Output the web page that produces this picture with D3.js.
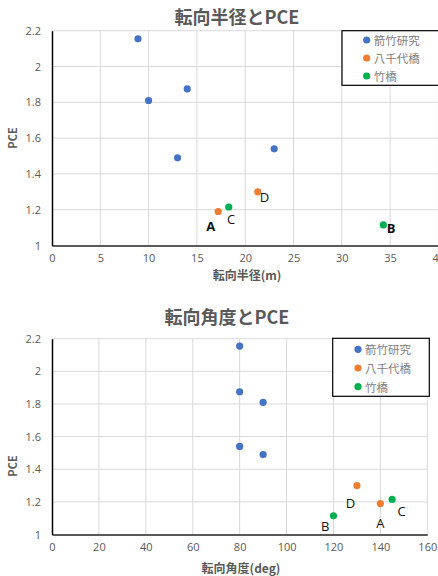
<!DOCTYPE html>
<html><head><meta charset="utf-8">
<script src="https://cdn.jsdelivr.net/npm/d3@7/dist/d3.min.js"></script>
<style>
body{margin:0;background:#fff;}
svg{display:block;font-family:"Noto Sans CJK JP","Noto Sans",sans-serif;}
</style></head>
<body><svg id="c" width="438" height="576"></svg>
<script>
// ---- data ----
const seriesNames = ["箭竹研究", "八千代橋", "竹橋"];
const seriesColors = ["#4472C4", "#ED7D31", "#00B050"];
// 箭竹研究
const radiusYaTake = [8.9, 10, 14, 13, 23];
const angleYaTake  = [80, 90, 80, 90, 80];
const pceYaTake    = [2.155, 1.81, 1.875, 1.49, 1.54];
// 八千代橋
const radiusYachiyo = [17.2, 21.3];
const angleYachiyo  = [140, 130];
const pceYachiyo    = [1.19, 1.30];
const labelsYachiyo = ["A", "D"];
// 竹橋
const radiusTake = [18.3, 34.3];
const angleTake  = [145, 120];
const pceTake    = [1.215, 1.115];
const labelsTake = ["C", "B"];

const yTicks = [1, 1.2, 1.4, 1.6, 1.8, 2, 2.2];
const xTicksRadius = [0, 5, 10, 15, 20, 25, 30, 35, 40];
const xTicksAngle = [0, 20, 40, 60, 80, 100, 120, 140, 160];

const svg = d3.select("#c");

function drawChart(cfg) {
  const g = svg.append("g");
  const x = d3.scaleLinear().domain(cfg.xDomain).range(cfg.xRange);
  const y = d3.scaleLinear().domain([1, 2.2]).range(cfg.yRange);
  // gridlines
  g.selectAll(".hg").data(yTicks.slice(1)).enter().append("line")
    .attr("x1", cfg.xRange[0]).attr("x2", cfg.xRange[1])
    .attr("y1", d => y(d)).attr("y2", d => y(d))
    .attr("stroke", "#d9d9d9").attr("stroke-width", 1);
  g.selectAll(".vg").data(cfg.xTicks.slice(1)).enter().append("line")
    .attr("x1", d => x(d)).attr("x2", d => x(d))
    .attr("y1", cfg.yRange[0]).attr("y2", cfg.yRange[1])
    .attr("stroke", "#d9d9d9").attr("stroke-width", 1);
  // axes
  const xa = g.append("g").attr("transform", `translate(0,${cfg.yRange[0]})`)
    .call(d3.axisBottom(x).tickValues(cfg.xTicks).tickSize(0).tickPadding(9).tickFormat(d3.format("")));
  xa.select(".domain").attr("stroke", "#595959").attr("stroke-width", 2);
  xa.selectAll("text").attr("fill", "#595959").style("font-size", "11px").style("font-family", "'Open Sans','Noto Sans',sans-serif");
  const ya = g.append("g").attr("transform", `translate(${cfg.xRange[0]},0)`)
    .call(d3.axisLeft(y).tickValues(yTicks).tickSize(0).tickPadding(11).tickFormat(d3.format("")));
  ya.select(".domain").attr("stroke", "#000").attr("stroke-width", 1.5);
  ya.selectAll("text").attr("fill", "#595959").style("font-size", "11px").style("font-family", "'Open Sans','Noto Sans',sans-serif");
  // titles
  g.append("text").attr("x", cfg.titleX).attr("y", cfg.titleY).attr("text-anchor", "middle")
    .attr("fill", "#595959").attr("font-weight", "bold").style("font-size", "18px").text(cfg.title);
  g.append("text").attr("x", cfg.xTitleX).attr("y", cfg.xTitleY).attr("text-anchor", "middle")
    .attr("fill", "#595959").attr("font-weight", "bold").style("font-size", "12px").text(cfg.xTitle);
  g.append("text").attr("transform", `translate(17,${cfg.yTitleY}) rotate(-90)`).attr("text-anchor", "middle")
    .attr("fill", "#595959").attr("font-weight", "bold").style("font-size", "11px").text("PCE");
  // points
  cfg.series.forEach((s, i) => {
    g.selectAll(null).data(s.xs).enter().append("circle")
      .attr("cx", d => x(d)).attr("cy", (d, j) => y(s.ys[j]))
      .attr("r", 3.6).attr("fill", seriesColors[i]);
    if (s.labels) {
      g.selectAll(null).data(s.labels).enter().append("text")
        .attr("x", (d, j) => x(s.xs[j]) + cfg.labelOff[d][0])
        .attr("y", (d, j) => y(s.ys[j]) + cfg.labelOff[d][1])
        .attr("text-anchor", "middle").attr("dominant-baseline", "central")
        .attr("font-weight", d => cfg.labelBold[d] ? "bold" : "normal")
        .attr("fill", "#111").style("font-size", "13px")
        .style("font-family", "'Open Sans','Noto Sans',sans-serif").text(d => d);
    }
  });
  // legend
  const L = cfg.legend;
  g.append("rect").attr("x", L.x).attr("y", L.y).attr("width", L.w).attr("height", L.h)
    .attr("fill", "#fff").attr("stroke", "#000").attr("stroke-width", 1.2);
  seriesNames.forEach((n, i) => {
    g.append("circle").attr("cx", L.mx).attr("cy", L.y0 + i * L.dy).attr("r", 3.6).attr("fill", seriesColors[i]);
    g.append("text").attr("x", L.mx + 7).attr("y", L.y0 + i * L.dy).attr("dominant-baseline", "central")
      .attr("fill", "#808080").style("font-size", "11.5px").text(n);
  });
}

drawChart({
  xDomain: [0, 40], xRange: [52, 438.4], yRange: [245.5, 30.7], xTicks: xTicksRadius,
  title: "転向半径とPCE", titleX: 237, titleY: 24,
  xTitle: "転向半径(m)", xTitleX: 247, xTitleY: 280, yTitleY: 138,
  series: [
    {xs: radiusYaTake, ys: pceYaTake},
    {xs: radiusYachiyo, ys: pceYachiyo, labels: labelsYachiyo},
    {xs: radiusTake, ys: pceTake, labels: labelsTake}
  ],
  labelOff: {A: [-7.5, 15], D: [6.6, 5], C: [2.3, 12], B: [7.7, 3]},
  labelBold: {A: true, B: true},
  legend: {x: 342, y: 30.7, w: 100, h: 54.6, mx: 366.7, y0: 40, dy: 18}
});
drawChart({
  xDomain: [0, 160], xRange: [52, 427.3], yRange: [534.5, 338.7], xTicks: xTicksAngle,
  title: "転向角度とPCE", titleX: 227, titleY: 324,
  xTitle: "転向角度(deg)", xTitleX: 241, xTitleY: 573, yTitleY: 466,
  series: [
    {xs: angleYaTake, ys: pceYaTake},
    {xs: angleYachiyo, ys: pceYachiyo, labels: labelsYachiyo},
    {xs: angleTake, ys: pceTake, labels: labelsTake}
  ],
  labelOff: {A: [0, 19.4], D: [-6.4, 17.4], C: [9.4, 11.7], B: [-8.3, 10.7]},
  labelBold: {},
  legend: {x: 332.7, y: 338.3, w: 96.6, h: 58, mx: 358, y0: 349.3, dy: 18.7}
});
</script></body></html>
